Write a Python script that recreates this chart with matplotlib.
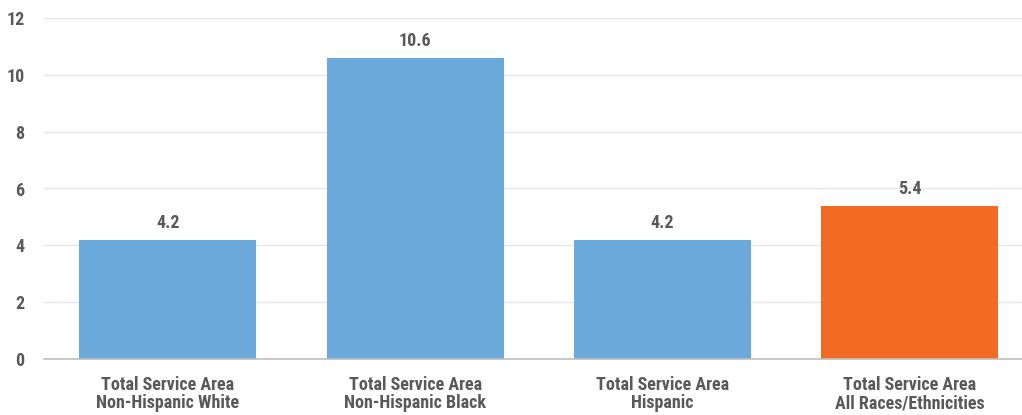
import matplotlib
matplotlib.use("Agg")
import matplotlib.pyplot as plt

categories = ["Total Service Area\nNon-Hispanic White",
              "Total Service Area\nNon-Hispanic Black",
              "Total Service Area\nHispanic",
              "Total Service Area\nAll Races/Ethnicities"]
values = [4.2, 10.6, 4.2, 5.4]
bar_colors = ["#6CA9DB", "#6CA9DB", "#6CA9DB", "#F26B22"]
yticks = [0, 2, 4, 6, 8, 10, 12]

plt.rcParams["font.family"] = ["Roboto Condensed", "DejaVu Sans"]
plt.rcParams["font.weight"] = "bold"
text_color = "#595959"

fig = plt.figure(figsize=(10.22, 4.15), dpi=100)
ax = fig.add_axes([44 / 1022, 56 / 415, 978 / 1022, 341 / 415])

x = range(len(values))
bars = ax.bar(x, values, width=0.716, color=bar_colors, zorder=3)
for b, v in zip(bars, values):
    ax.text(b.get_x() + b.get_width() / 2, v + 0.26, f"{v:.1f}",
            ha="center", va="bottom", fontsize=13, fontweight="bold",
            color=text_color)

ax.set_xlim(-0.5, 3.453)
ax.set_ylim(0, 12)
ax.set_yticks(yticks)
ax.set_xticks(list(x))
ax.set_xticklabels(categories, fontsize=13, fontweight="bold",
                   color=text_color, linespacing=1.05)
ax.tick_params(axis="y", labelsize=13, colors=text_color, length=0, pad=14)
ax.tick_params(axis="x", length=0, pad=12)

ax.grid(axis="y", color="#E6E6E6", linewidth=1, zorder=0)
for side in ["top", "right", "left"]:
    ax.spines[side].set_visible(False)
ax.spines["bottom"].set_color("#BFBFBF")
ax.spines["bottom"].set_linewidth(1.2)
ax.spines["bottom"].set_zorder(4)

fig.savefig("out.png", dpi=100)
